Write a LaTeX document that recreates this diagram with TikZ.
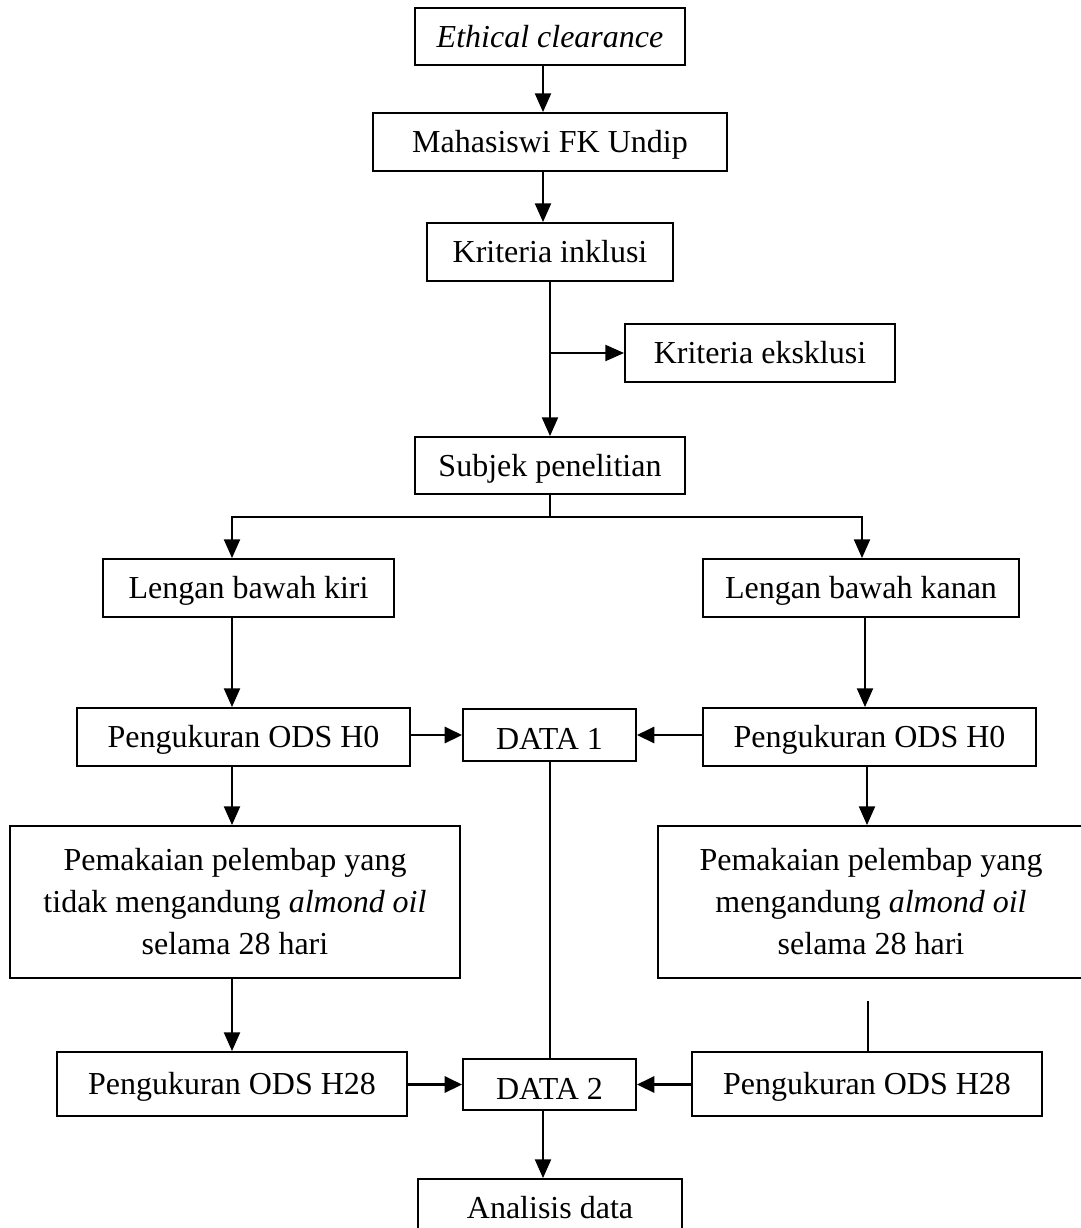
\documentclass[tikz,border=0pt]{standalone}
\usepackage{fontspec}
\setmainfont{Liberation Serif}
\usetikzlibrary{arrows.meta,calc}
\tikzset{
  box/.style={draw, line width=1.4pt, rectangle, inner sep=0pt, align=center,
    font=\fontsize{24}{31.5}\selectfont},
  one/.style={text height=16pt, text depth=0pt},
  low/.style={text height=22pt, text depth=0pt},
  arr/.style={line width=1.5pt, -{Triangle[length=14pt,width=12pt]}},
  harr/.style={line width=2.2pt, -{Triangle[length=13pt,width=12pt]}},
  thin/.style={line width=1pt},
}
\newcommand{\bx}[6]{\node[box, #6, minimum width=#3*0.75pt, minimum height=#4*0.75pt] (#1) at #2 {#5};}
\begin{document}
\begin{tikzpicture}[x=0.75pt,y=-0.75pt]
\clip (0,0) rectangle (1081,1228);
\fill[white] (0,0) rectangle (1081,1228);
% helper coordinates for connector x positions
\coordinate (xa) at (543,0);
\coordinate (xm) at (550,0);
\coordinate (xl) at (232,0);
\coordinate (xr) at (862,0);
\coordinate (xr2) at (865,0);
\coordinate (xr3) at (867,0);
\coordinate (br) at (550,517);
\coordinate (free) at (868,1001);

\bx{eth}{(550,36.5)}{270}{57}{\textit{Ethical clearance}}{one}
\bx{mah}{(550,142)}{354}{58}{Mahasiswi FK Undip}{one}
\bx{inkl}{(550,252)}{246}{58}{Kriteria inklusi}{one}
\bx{eks}{(760,353)}{270}{58}{Kriteria eksklusi}{one}
\bx{subj}{(550,465.5)}{270}{57}{Subjek penelitian}{one}
\bx{lkiri}{(248.5,588)}{291}{58}{Lengan bawah kiri}{one}
\bx{lkanan}{(861,588)}{316}{58}{Lengan bawah kanan}{one}
\bx{h0l}{(243.5,737)}{333}{58}{Pengukuran ODS H0}{one}
\bx{d1}{(549.5,735)}{173}{52}{DATA 1}{low}
\bx{h0r}{(869.5,737)}{333}{58}{Pengukuran ODS H0}{one}
\bx{paml}{(235,902)}{450}{152}{Pemakaian pelembap yang\\tidak mengandung \textit{almond oil}\\selama 28 hari}{}
\bx{pamr}{(871,902)}{426}{152}{Pemakaian pelembap yang\\mengandung \textit{almond oil}\\selama 28 hari}{}
\bx{h28l}{(232,1084)}{350}{64}{Pengukuran ODS H28}{one}
\bx{d2}{(549.5,1084.5)}{173}{51}{DATA 2}{low}
\bx{h28r}{(867,1084)}{350}{64}{Pengukuran ODS H28}{one}
\bx{anal}{(550,1208)}{264}{58}{Analisis data}{one}

% connectors
\draw[arr] (eth.south -| xa) -- (mah.north -| xa);
\draw[arr] (mah.south -| xa) -- (inkl.north -| xa);
\draw[arr] (inkl.south -| xm) -- (subj.north -| xm);
\draw[arr] (inkl.south |- eks.west) -- (eks.west);
\draw[line width=1.3pt] (subj.south -| xm) -- (br);
\draw[arr] (br) -| (lkiri.north -| xl);
\draw[arr] (br) -| (lkanan.north -| xr);
\draw[arr] (lkiri.south -| xl) -- (h0l.north -| xl);
\draw[arr] (lkanan.south -| xr2) -- (h0r.north -| xr2);
\draw[harr] (h0l.east |- d1.west) -- (d1.west);
\draw[harr] (h0r.west |- d1.east) -- (d1.east);
\draw[thin] (d1.south -| xm) -- (d2.north -| xm);
\draw[arr] (h0l.south -| xl) -- (paml.north -| xl);
\draw[arr] (h0r.south -| xr3) -- (pamr.north -| xr3);
\draw[arr] (paml.south -| xl) -- (h28l.north -| xl);
\draw[line width=1.3pt] (free) -- (free |- h28r.north);
\draw[harr] (h28l.east |- d2.west) -- (d2.west);
\draw[harr] (h28r.west |- d2.east) -- (d2.east);
\draw[arr] (d2.south -| xa) -- (anal.north -| xa);
\end{tikzpicture}
\end{document}
